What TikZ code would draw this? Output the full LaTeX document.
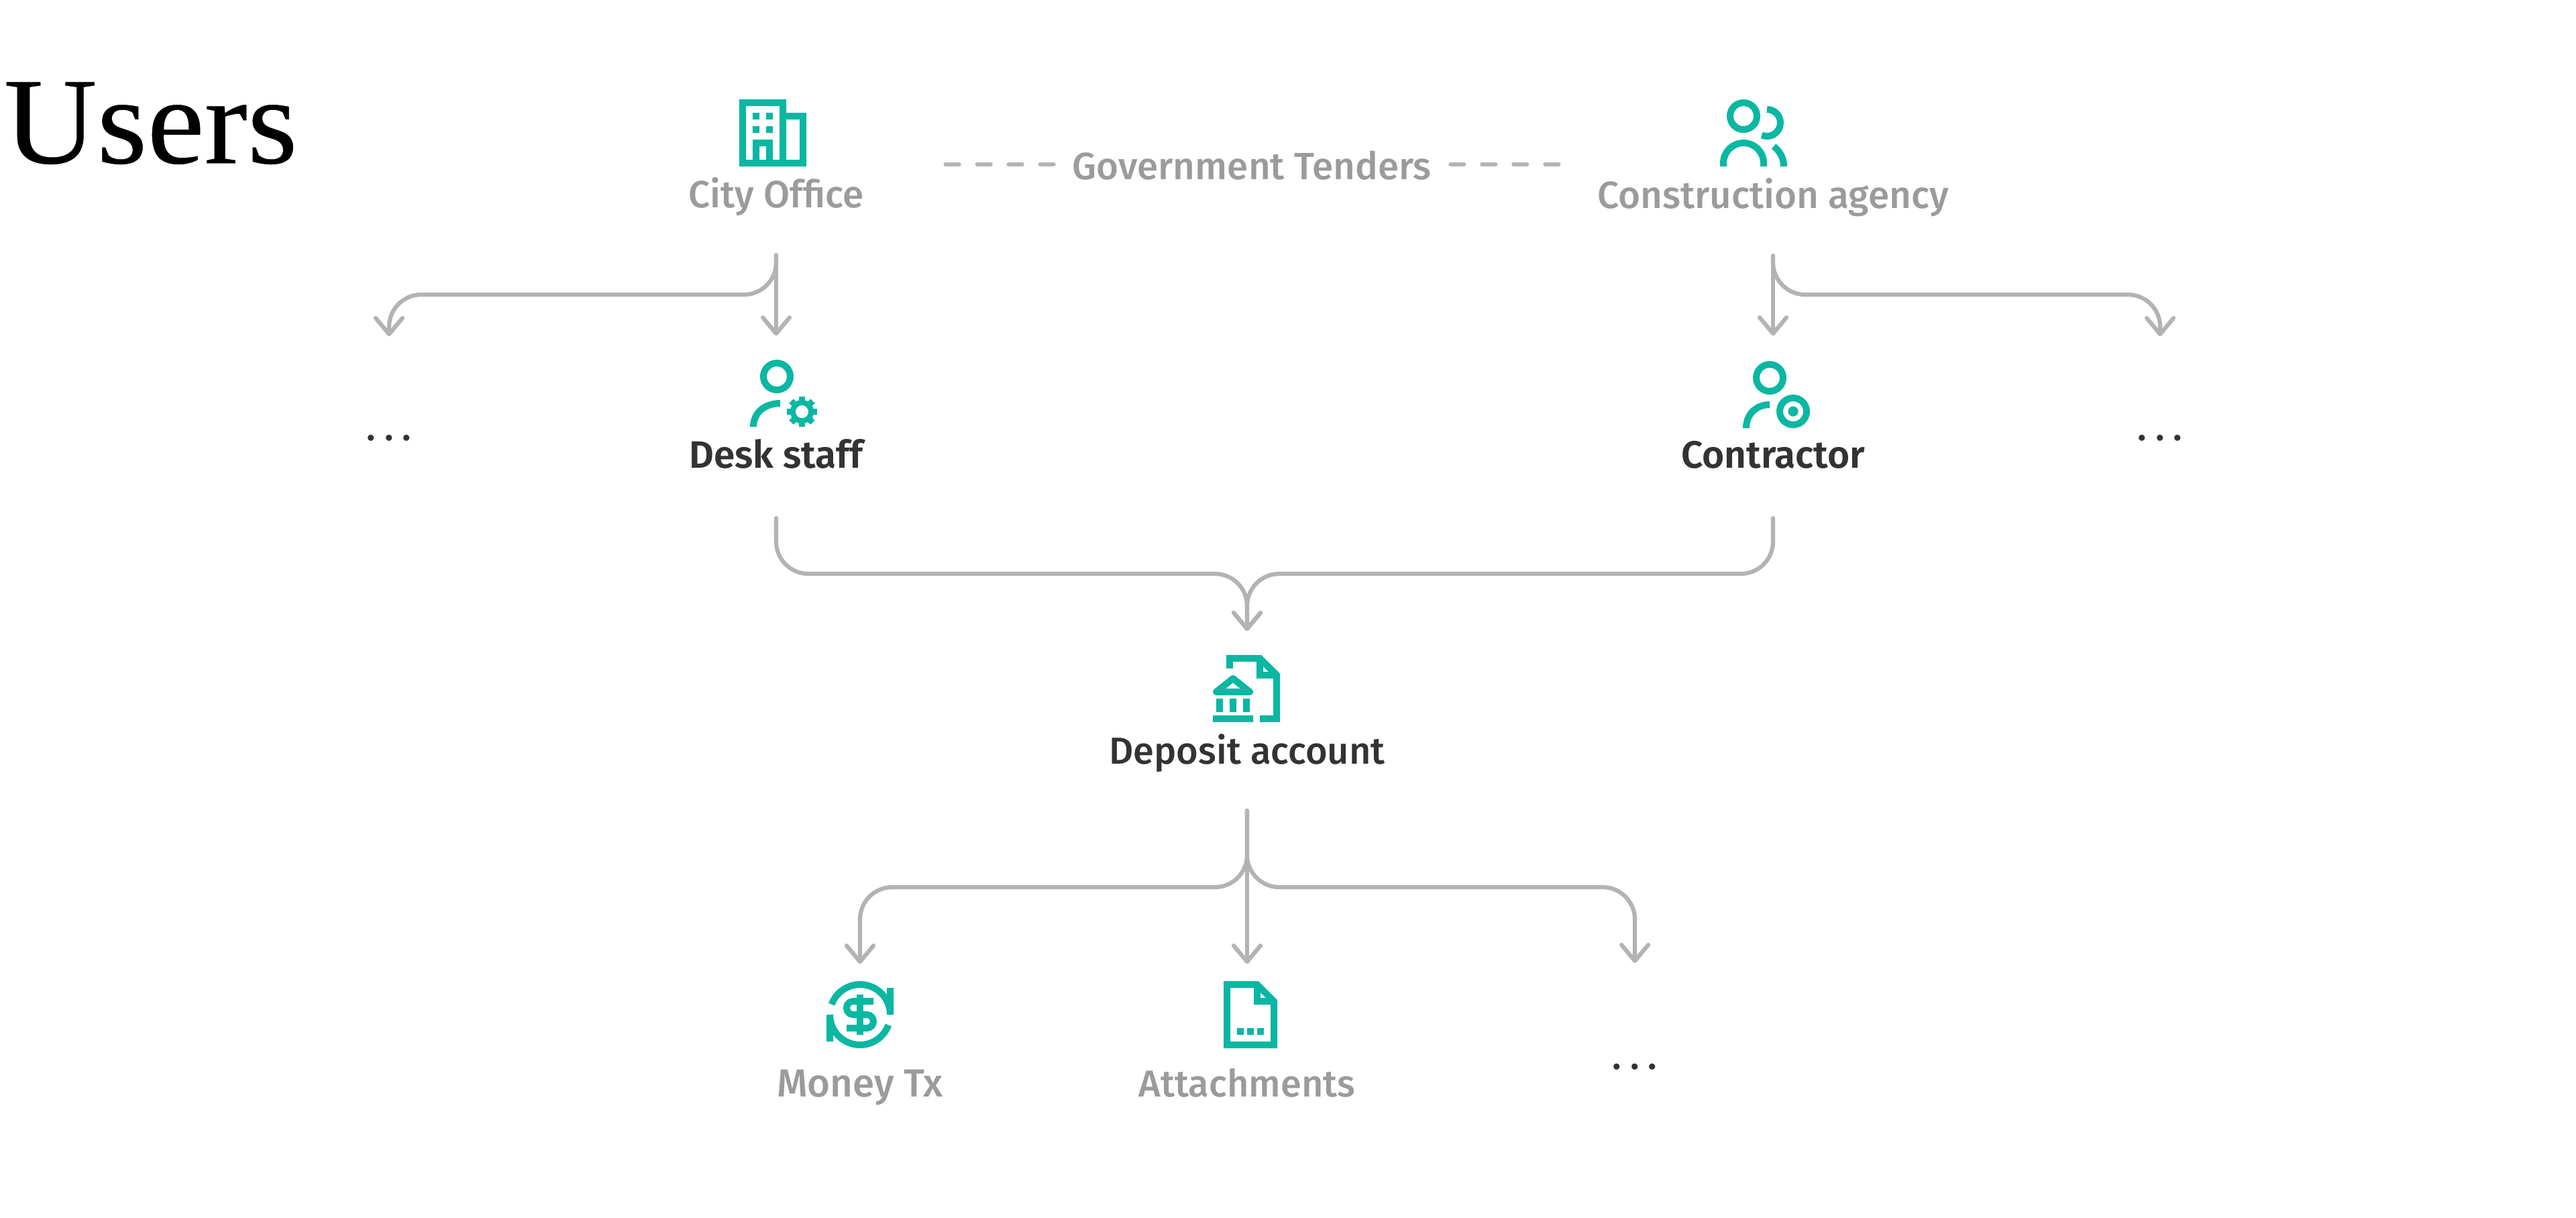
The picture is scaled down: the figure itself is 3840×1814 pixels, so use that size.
\documentclass[tikz,border=0pt]{standalone}
\usepackage{fontspec}
\usetikzlibrary{arrows.meta}
\setmainfont{Liberation Serif}
\newfontfamily\titlefont[FakeBold=0.25]{Liberation Serif}
\newfontfamily\lblmed{Fira Sans Medium}
\newfontfamily\lblsemi{Fira Sans SemiBold}
\definecolor{teal}{HTML}{0AB7A2}
\definecolor{softgray}{HTML}{9B9B9B}
\definecolor{linegray}{HTML}{B3B3B3}
\definecolor{inkdark}{HTML}{333333}
\tikzset{
  x=0.25pt,y=0.25pt,
  tealfill/.style={fill=teal,draw=none},
  tealline/.style={draw=teal,line width=2.5pt,line cap=butt},
  graylabel/.style={font=\lblmed\fontsize{14.15}{16}\selectfont,text=softgray,anchor=base,inner sep=0pt},
  darklabel/.style={font=\lblsemi\fontsize{14.2}{16}\selectfont,text=inkdark,anchor=base,inner sep=0pt},
  dotslabel/.style={font=\lblmed\fontsize{14}{16}\selectfont,text=inkdark,anchor=base,inner sep=0pt},
  iconbox/.style={inner sep=0pt,minimum width=25pt,minimum height=25pt},
  conn/.style={draw=linegray,line width=1.55pt,line cap=round,line join=round},
  flow/.style={conn,-{Straight Barb[length=6pt,width=10pt,round]}},
  dashconn/.style={conn,dash pattern=on 5pt off 6.75pt},
}
\newcommand{\threedots}{.\hspace{3.3pt}.\hspace{3.3pt}.}
\begin{document}
\begin{tikzpicture}
\useasboundingbox (0,0) rectangle (3840,-1814);

% title
\node[anchor=base west,inner sep=0pt,font=\titlefont\fontsize{46}{50}\selectfont,text=black] (title) at (5,-243) {\scalebox{1.045}[1]{Users}};

% text labels
\node[graylabel] (city) at (1157,-309) {City Office};
\node[graylabel] (agency) at (2643,-310) {Construction agency};
\node[graylabel] (gov) at (1866,-267) {Government Tenders};
\node[darklabel] (desk) at (1157,-697) {Desk staff};
\node[darklabel] (contractor) at (2643,-697) {Contractor};
\node[darklabel,font=\lblmed\fontsize{14}{16}\selectfont] (deposit) at (1859,-1138) {Deposit account};
\node[graylabel,font=\lblmed\fontsize{14.6}{16}\selectfont] (money) at (1282,-1634) {Money Tx};
\node[graylabel,font=\lblmed\fontsize{14}{16}\selectfont] (attach) at (1859,-1634) {Attachments};
\node[dotslabel] (dotsL) at (580,-656) {\threedots};
\node[dotslabel] (dotsR) at (3220,-656) {\threedots};
\node[dotslabel] (dotsB) at (2437,-1593) {\threedots};

% icon boxes
\node[iconbox] (cityicon) at (1152,-198) {};
\node[iconbox] (agencyicon) at (2614,-198) {};
\node[iconbox] (deskicon) at (1157,-586) {};
\node[iconbox] (contractoricon) at (2643,-588) {};
\node[iconbox] (depositicon) at (1859,-1026) {};
\node[iconbox] (moneyicon) at (1282,-1512) {};
\node[iconbox] (attachicon) at (1859,-1512) {};

% building icon
\fill[teal,even odd rule]
  (1102,-148) -- (1172,-148) -- (1172,-168) -- (1202,-168) -- (1202,-248) -- (1102,-248) -- cycle
  (1112,-158) -- (1162,-158) -- (1162,-238) -- (1152,-238) -- (1152,-208) -- (1122,-208) -- (1122,-238) -- (1112,-238) -- cycle
  (1172,-178) -- (1192,-178) -- (1192,-238) -- (1172,-238) -- cycle
  (1132,-218) -- (1142,-218) -- (1142,-238) -- (1132,-238) -- cycle;
\fill[teal] (1122,-168) rectangle (1132,-178) (1142,-168) rectangle (1152,-178)
            (1122,-188) rectangle (1132,-198) (1142,-188) rectangle (1152,-198);

% agency icon
\draw[tealline] (2599,-173) circle[radius=5pt];
\draw[tealline] (2634,-163) arc[start angle=90,end angle=-113,radius=5pt];
\draw[tealline] (2569,-248) -- (2569,-243) arc[start angle=180,end angle=0,radius=7.5pt] -- (2629,-248);
\draw[tealline] (2644,-218) .. controls (2654,-226) and (2659,-236) .. (2659,-248);

% desk staff icon
\draw[tealline] (1158,-561) circle[radius=5pt];
\draw[tealline] (1123,-636) .. controls (1123,-615) and (1140,-601) .. (1163,-601);
\begin{scope}[shift={(1195.5,-613.5)}]
  \fill[teal,even odd rule] (0,0) circle[radius=4.4pt] (0,0) circle[radius=2.4pt];
  \foreach \a in {0,45,...,315}
    \fill[teal,rotate=\a] (-4.6,12) rectangle (4.6,22.5);
\end{scope}

% contractor icon
\draw[tealline] (2638,-563) circle[radius=5pt];
\draw[tealline] (2603,-638) .. controls (2603,-617) and (2618,-603) .. (2638,-603);
\draw[tealline] (2673,-613) circle[radius=5pt];
\fill[teal] (2673,-613) circle[radius=1.9pt];

% deposit icon
\fill[teal,even odd rule]
  (1828,-976) -- (1880,-976) -- (1908,-1003.5) -- (1908,-1076) -- (1878,-1076) -- (1878,-1066) -- (1898,-1066) -- (1898,-1011) -- (1873,-1011) -- (1873,-986) -- (1838,-986) -- (1838,-996) -- (1828,-996) -- cycle
  (1883,-993) -- (1891,-1001) -- (1883,-1001) -- cycle;
\draw[tealline,line join=round] (1838,-1011) -- (1813,-1031) -- (1863,-1031) -- cycle;
\fill[teal] (1813,-1041) rectangle (1823,-1061) (1833,-1041) rectangle (1843,-1061) (1853,-1041) rectangle (1863,-1061)
            (1808,-1066) rectangle (1868,-1076);

% money icon
\draw[tealline] (1282,-1512) ++(160:45) arc[start angle=160,end angle=0,radius=11.25pt];
\draw[tealline] (1282,-1512) ++(180:45) arc[start angle=180,end angle=340,radius=11.25pt];
\fill[teal] (1322,-1472) rectangle (1332,-1512) (1232,-1512) rectangle (1242,-1552);
\fill[teal] (1277,-1482) rectangle (1287,-1542);
\draw[tealline] (1302,-1492) -- (1272,-1492) arc[start angle=90,end angle=270,radius=2.5pt] -- (1292,-1512) arc[start angle=90,end angle=-90,radius=2.5pt] -- (1262,-1532);

% attachments icon
\fill[teal,even odd rule]
  (1824,-1462) -- (1876,-1462) -- (1904,-1490) -- (1904,-1562) -- (1824,-1562) -- cycle
  (1834,-1472) -- (1869,-1472) -- (1869,-1497) -- (1894,-1497) -- (1894,-1552) -- (1834,-1552) -- cycle
  (1879,-1479) -- (1887,-1487) -- (1879,-1487) -- cycle;
\fill[teal] (1844,-1532) rectangle (1854,-1542) (1859,-1532) rectangle (1869,-1542) (1874,-1532) rectangle (1884,-1542);

% dashed connectors
\draw[dashconn] ([shift={(-6.75pt,5.5pt)}]gov.base west) -- ++(-161,0);
\draw[dashconn] ([shift={(7pt,5.5pt)}]gov.base east) -- ++(161,0);

% connectors from City Office
\draw[flow] ([yshift=-17.75pt]city.base) -- ([yshift=8.75pt]deskicon.north);
\draw[flow] ([yshift=-17.75pt]city.base) -- ++(0,-11) arc[start angle=0,end angle=-90,radius=12pt] -- ++(-481,0) arc[start angle=90,end angle=180,radius=12pt] -- ([yshift=38.75pt]dotsL.base);

% connectors from Construction agency
\draw[flow] ([yshift=-17.75pt]agency.base) -- ([yshift=9.25pt]contractoricon.north);
\draw[flow] ([yshift=-17.75pt]agency.base) -- ++(0,-10) arc[start angle=180,end angle=270,radius=12pt] -- ++(481,0) arc[start angle=90,end angle=0,radius=12pt] -- ([yshift=38.75pt]dotsR.base);

% connectors into Deposit account
\draw[flow] ([yshift=-18.75pt]desk.base) -- ++(0,-35) arc[start angle=180,end angle=270,radius=12pt] -- ++(606,0) arc[start angle=90,end angle=0,radius=12pt] -- ([yshift=8.75pt]depositicon.north);
\draw[flow] ([yshift=-18.75pt]contractor.base) -- ++(0,-35) arc[start angle=0,end angle=-90,radius=12pt] -- ++(-688,0) arc[start angle=90,end angle=180,radius=12pt] -- ([yshift=8.75pt]depositicon.north);

% connectors from Deposit account
\draw[flow] ([yshift=-17.5pt]deposit.base) -- ([yshift=6.25pt]attachicon.north);
\draw[flow] ([yshift=-17.5pt]deposit.base) -- ++(0,-66) arc[start angle=0,end angle=-90,radius=12pt] -- ++(-481,0) arc[start angle=90,end angle=180,radius=12pt] -- ([yshift=6.25pt]moneyicon.north);
\draw[flow] ([yshift=-17.5pt]deposit.base) -- ++(0,-66) arc[start angle=180,end angle=270,radius=12pt] -- ++(482,0) arc[start angle=90,end angle=0,radius=12pt] -- ([yshift=39.5pt]dotsB.base);
\end{tikzpicture}
\end{document}
